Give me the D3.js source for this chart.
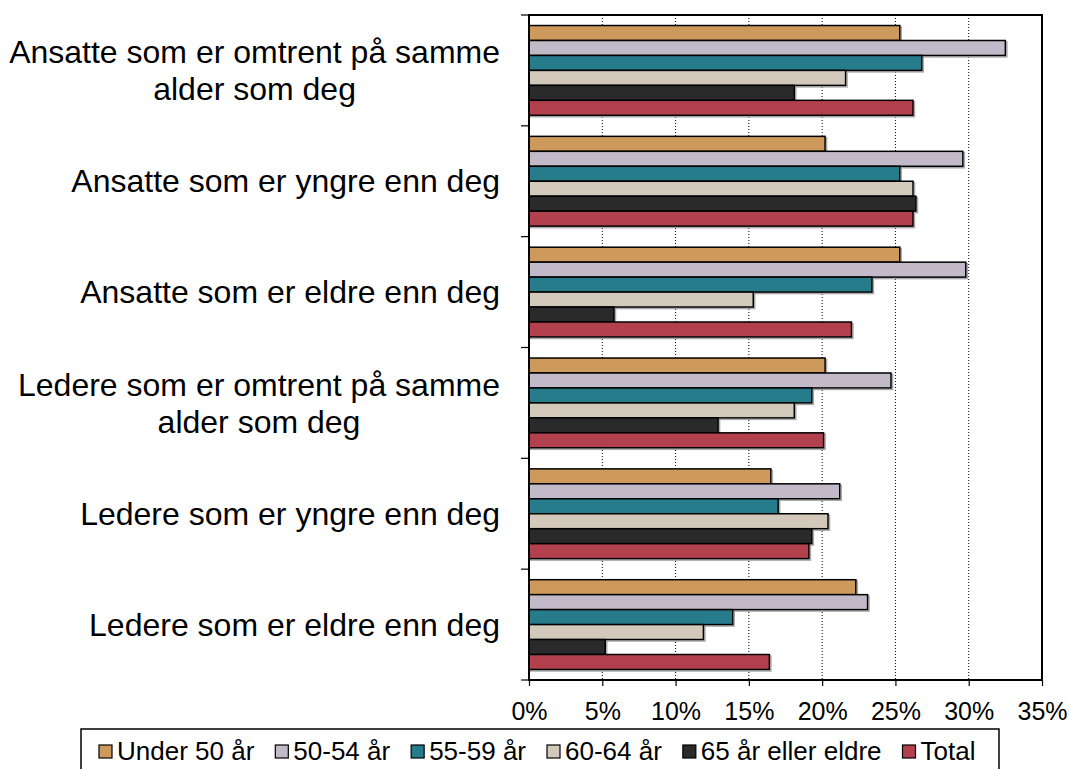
<!DOCTYPE html>
<html>
<head>
<meta charset="utf-8">
<script src="https://cdn.jsdelivr.net/npm/d3@7"></script>
<style>
  body { margin: 0; background: #fff; }
  text { font-family: "Liberation Sans", Arial, sans-serif; fill: #000; }
</style>
</head>
<body>
<div id="chart"></div>
<script>
// categories (label lines) and series
var categories = [
  ["Ansatte som er omtrent på samme", "alder som deg"],
  ["Ansatte som er yngre enn deg"],
  ["Ansatte som er eldre enn deg"],
  ["Ledere som er omtrent på samme", "alder som deg"],
  ["Ledere som er yngre enn deg"],
  ["Ledere som er eldre enn deg"]
];
var seriesNames = ["Under 50 år", "50-54 år", "55-59 år", "60-64 år", "65 år eller eldre", "Total"];
var seriesColors = ["#cd9a5b", "#c2bac8", "#277c8c", "#d3c9ba", "#2a2a2a", "#b2404d"];

// values in %, one array per series, in category order
var under50 = [25.3, 20.2, 25.3, 20.2, 16.5, 22.3];
var age5054 = [32.5, 29.6, 29.8, 24.7, 21.2, 23.1];
var age5559 = [26.8, 25.3, 23.4, 19.3, 17.0, 13.9];
var age6064 = [21.6, 26.2, 15.3, 18.1, 20.4, 11.9];
var age65   = [18.1, 26.4,  5.8, 12.9, 19.3,  5.2];
var total   = [26.2, 26.2, 22.0, 20.1, 19.1, 16.4];
var seriesValues = [under50, age5054, age5559, age6064, age65, total];

var xTicks = [0, 5, 10, 15, 20, 25, 30, 35];

var width = 1070, height = 769;
// plot area (note: "top" is reserved on window, hence the prefix)
var plotLeft = 529, plotRight = 1042, plotTop = 15, plotBottom = 680;

var svg = d3.select("#chart").append("svg")
  .attr("width", width)
  .attr("height", height);

var x = d3.scaleLinear().domain([0, 35]).range([plotLeft, plotRight]);
var y = d3.scaleBand().domain(d3.range(categories.length)).range([plotTop, plotBottom]);
var inner = d3.scaleBand().domain(d3.range(seriesNames.length))
  .range([y.bandwidth() * 0.095, y.bandwidth() * 0.905]);

// dotted gridlines
svg.append("g")
  .selectAll("line")
  .data(xTicks.slice(1, -1))
  .enter().append("line")
    .attr("x1", d => x(d)).attr("x2", d => x(d))
    .attr("y1", plotTop).attr("y2", plotBottom)
    .attr("stroke", "#000")
    .attr("stroke-width", 1)
    .attr("stroke-dasharray", "1,2");

// bars
var rows = [];
categories.forEach(function(c, ci) {
  seriesNames.forEach(function(s, si) {
    rows.push({ c: ci, s: si, v: seriesValues[si][ci] });
  });
});

var bars = svg.append("g");
// light shadow behind each bar
bars.selectAll("rect.shadow")
  .data(rows)
  .enter().append("rect")
    .attr("class", "shadow")
    .attr("x", x(0) + 1.5)
    .attr("y", d => y(d.c) + inner(d.s) + 1.5)
    .attr("width", d => x(d.v) - x(0))
    .attr("height", inner.bandwidth())
    .attr("fill", "none")
    .attr("stroke", "#aaa")
    .attr("stroke-width", 1.5);

bars.selectAll("rect.bar")
  .data(rows)
  .enter().append("rect")
    .attr("class", "bar")
    .attr("x", x(0))
    .attr("y", d => y(d.c) + inner(d.s))
    .attr("width", d => x(d.v) - x(0))
    .attr("height", inner.bandwidth())
    .attr("fill", d => seriesColors[d.s])
    .attr("stroke", "#000")
    .attr("stroke-width", 1.5);

// plot frame
svg.append("rect")
  .attr("x", plotLeft).attr("y", plotTop)
  .attr("width", plotRight - plotLeft).attr("height", plotBottom - plotTop)
  .attr("fill", "none")
  .attr("stroke", "#000")
  .attr("stroke-width", 2);

// x axis
var xAxis = svg.append("g")
  .attr("transform", "translate(0," + plotBottom + ")")
  .call(d3.axisBottom(x).tickValues(xTicks).tickFormat(d => d + "%").tickSize(6).tickPadding(16));
xAxis.select(".domain").remove();
xAxis.selectAll("line").attr("stroke", "#000").attr("stroke-width", 1.2);
xAxis.selectAll("text").attr("font-size", 25).attr("font-family", "Liberation Sans, Arial, sans-serif");

// y axis ticks at band boundaries
svg.append("g")
  .selectAll("line")
  .data(d3.range(categories.length + 1))
  .enter().append("line")
    .attr("x1", plotLeft - 8).attr("x2", plotLeft)
    .attr("y1", d => plotTop + d * y.step()).attr("y2", d => plotTop + d * y.step())
    .attr("stroke", "#000")
    .attr("stroke-width", 1.2);

// category labels: block right-aligned, lines centred on each other
var labelRight = 500;
var lineH = 37;
categories.forEach(function(lines, ci) {
  var g = svg.append("g");
  var texts = lines.map(function(l) {
    return g.append("text").attr("font-size", 32).text(l);
  });
  var maxW = d3.max(texts, t => t.node().getComputedTextLength());
  var cy = y(ci) + y.bandwidth() / 2;
  var y0 = cy - (lines.length - 1) * lineH / 2;
  texts.forEach(function(t, i) {
    t.attr("text-anchor", "middle")
      .attr("x", labelRight - maxW / 2)
      .attr("y", y0 + i * lineH)
      .attr("dy", "0.35em");
  });
});

// legend
var legend = svg.append("g");
var legTop = 729, legLeft = 81, legRight = 999;
legend.append("rect")
  .attr("x", legLeft).attr("y", legTop)
  .attr("width", legRight - legLeft).attr("height", 44)
  .attr("fill", "#fff")
  .attr("stroke", "#000")
  .attr("stroke-width", 1.5);

var lx = 99;
seriesNames.forEach(function(s, i) {
  legend.append("rect")
    .attr("x", lx).attr("y", legTop + 16)
    .attr("width", 13).attr("height", 13)
    .attr("fill", seriesColors[i])
    .attr("stroke", "#000")
    .attr("stroke-width", 1.2);
  var t = legend.append("text")
    .attr("x", lx + 18).attr("y", legTop + 31)
    .attr("font-size", 26)
    .text(s);
  lx += 18 + t.node().getComputedTextLength() + 21;
});
</script>
</body>
</html>
